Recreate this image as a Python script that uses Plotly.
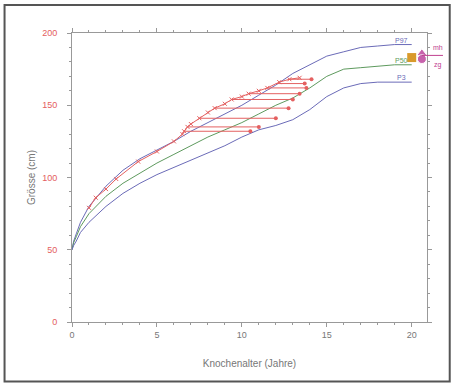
import plotly.graph_objects as go

# Reference percentile curves (age in years, height in cm)
age_grid = [0, 0.1, 0.25, 0.5, 1, 2, 3, 4, 5, 6, 7, 8, 9, 10, 11, 12, 13, 14, 15, 16, 17, 18, 19, 20]
p97 = [50, 56, 61, 69, 80, 94, 105, 113, 119, 125, 132, 138, 144, 150, 157, 164, 172, 178, 184, 187, 190, 191, 192, 192]
p50 = [50, 55, 59, 66, 75, 87, 96, 103, 110, 116, 122, 128, 133, 138, 144, 150, 155, 162, 170, 175, 176, 177, 178, 178]
p3 = [50, 53, 56, 62, 69, 80, 89, 96, 102, 107, 112, 117, 122, 128, 133, 136, 140, 147, 156, 162, 165, 166, 166, 166]
curve_labels = ["P97", "P50", "P3"]

# Patient: height by bone age
bone_age = [1.0, 1.4, 2.0, 2.6, 3.9, 5.0, 6.0, 6.5, 6.6, 6.8, 7.0, 7.5, 8.0, 8.4, 9.0, 9.4, 10.0, 10.4, 11.0, 11.5, 12.2, 12.8, 13.4]
height = [79, 86, 92, 99, 111, 118, 125, 130, 132, 135, 137, 141, 145, 148, 151, 154, 156, 158, 160, 162, 166, 168, 169]

# Hatching: bone age -> chronological age at the same height
hatch_height = [132, 135, 141, 148, 154, 158, 162, 165, 168]
hatch_bone = [6.6, 6.8, 7.5, 8.4, 9.4, 10.4, 11.5, 12.0, 12.8]
hatch_chrono = [10.5, 11.0, 12.0, 12.75, 13.0, 13.4, 13.8, 13.7, 14.1]

# Parental / target markers
parent_age = [20.0, 20.6, 20.6]
parent_height = [183, 186, 182]
target_height = 184.5
side_labels = ["mh", "zg"]
side_label_height = [190, 178]

BLUE = "#6b6bb8"
GREEN = "#5e9a5e"
RED = "#e46060"
MAG = "#c04090"
GRAY = "#777777"
X_MAX = 20.9

fig = go.Figure()

for ys, col, lab in [(p97, BLUE, curve_labels[0]), (p50, GREEN, curve_labels[1]), (p3, BLUE, curve_labels[2])]:
    fig.add_trace(go.Scatter(x=age_grid, y=ys, mode="lines", line=dict(color=col, width=1),
                             showlegend=False, hoverinfo="skip"))
    fig.add_annotation(x=age_grid[-1] - 0.6, y=ys[-1] + 3, text=lab, showarrow=False,
                       font=dict(size=7, color=col, family="Liberation Sans"))

# hatching
for h, b, c in zip(hatch_height, hatch_bone, hatch_chrono):
    fig.add_trace(go.Scatter(x=[b, c], y=[h, h], mode="lines", line=dict(color=RED, width=1),
                             showlegend=False, hoverinfo="skip"))
fig.add_trace(go.Scatter(x=hatch_chrono, y=hatch_height, mode="markers",
                         marker=dict(color=RED, size=4), showlegend=False))

# patient bone-age curve
fig.add_trace(go.Scatter(x=bone_age, y=height, mode="lines+markers",
                         line=dict(color=RED, width=1),
                         marker=dict(color=RED, size=4, symbol="x-thin", line=dict(color=RED, width=1)),
                         showlegend=False))

# parents
fig.add_trace(go.Scatter(x=[parent_age[0]], y=[parent_height[0]], mode="markers",
                         marker=dict(color="#d99a2b", size=9, symbol="square"), showlegend=False))
fig.add_trace(go.Scatter(x=parent_age[1:], y=parent_height[1:], mode="markers",
                         marker=dict(color="#b0208a", size=[9, 9], symbol=["triangle-up", "circle"]),
                         showlegend=False, cliponaxis=False))
fig.add_shape(type="line", xref="x", yref="y", x0=parent_age[1], x1=X_MAX, y0=target_height, y1=target_height,
              line=dict(color=MAG, width=1))
fig.add_shape(type="line", xref="paper", yref="y", x0=1.0, x1=1.045, y0=target_height, y1=target_height,
              line=dict(color=MAG, width=1))
for t, yv in zip(side_labels, side_label_height):
    fig.add_annotation(xref="paper", x=1.03, y=yv, text=t, showarrow=False, xanchor="center",
                       font=dict(size=7, color=MAG, family="Liberation Sans"))

axis_common = dict(showline=True, linecolor="#999999", linewidth=1, mirror="ticks",
                   ticks="outside", ticklen=4, tickcolor="#999999", showgrid=False, zeroline=False)

fig.update_xaxes(range=[0, X_MAX], tickvals=[0, 5, 10, 15, 20],
                 minor=dict(dtick=1, ticklen=2, tickcolor="#999999", ticks="outside"),
                 tickfont=dict(size=9, color=GRAY, family="Liberation Sans"),
                 title=dict(text="Knochenalter (Jahre)", font=dict(size=10, color=GRAY, family="Liberation Sans"), standoff=21),
                 **axis_common)
fig.update_yaxes(range=[0, 200], tickvals=[0, 50, 100, 150, 200],
                 minor=dict(dtick=10, ticklen=2, tickcolor="#999999", ticks="outside"),
                 tickfont=dict(size=9, color=RED, family="Liberation Sans"),
                 ticklabelstandoff=8,
                 title=dict(text="Grösse (cm)", font=dict(size=10, color=GRAY, family="Liberation Sans"), standoff=4),
                 **axis_common)

# outer frame
fig.add_shape(type="rect", xref="paper", yref="paper", x0=-0.19, x1=1.064, y0=-0.206, y1=1.097,
              line=dict(color="#555555", width=2))

fig.update_layout(width=454, height=385, margin=dict(l=72, r=27, t=33, b=63),
                  paper_bgcolor="white", plot_bgcolor="white")

fig.write_html("out.html")
